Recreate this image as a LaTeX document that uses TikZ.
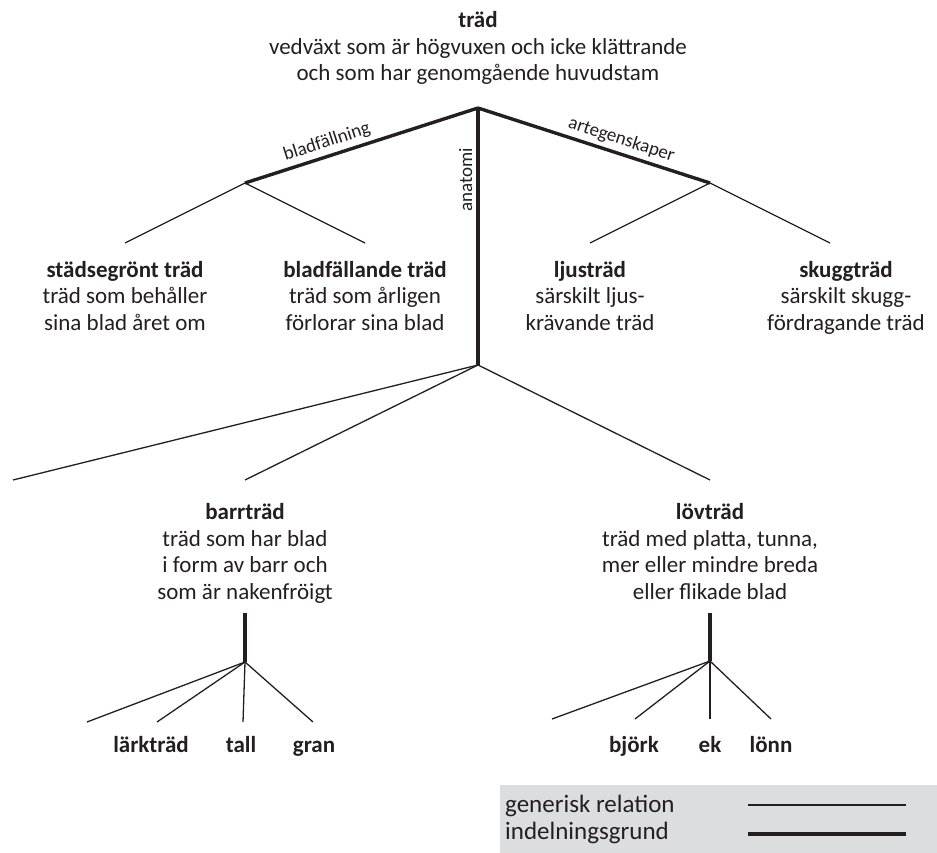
\documentclass[tikz,border=0pt]{standalone}
\usepackage{fontspec}
\setmainfont{Carlito}
\usetikzlibrary{positioning, calc}
\definecolor{inkblack}{RGB}{35, 31, 32}
\definecolor{legendgray}{RGB}{220, 221, 223}
\tikzset{
  generic/.style={line width=1.3pt, inkblack},
  division/.style={line width=3.4pt, inkblack},
  concept/.style={align=center, inner sep=0pt, anchor=base, text=inkblack, font=\fontsize{23}{26.5}\selectfont},
  leafterm/.style={inner sep=0pt, anchor=base, text=inkblack, font=\fontsize{23}{26}\selectfont\bfseries},
  basislabel/.style={inner sep=1pt, text=inkblack, font=\fontsize{19}{22}\selectfont},
  legendtext/.style={inner sep=0pt, anchor=base west, text=inkblack, font=\fontsize{25}{27}\selectfont}
}

\begin{document}
\begin{tikzpicture}[x=1pt, y=-1pt]
    \useasboundingbox (0,0) rectangle (937,853);

    % Top concept (base = last line)
    \node[concept] (trad) at (478,81) {\textbf{träd}\\vedväxt som är högvuxen och icke klättrande\\och som har genomgående huvudstam};
    \coordinate (root) at (478,108);

    % Division points
    \coordinate (bladj) at (245,183);
    \coordinate (artj) at (710,183);
    \coordinate (anaj) at (478,365);

    \draw[division] (bladj) -- node[basislabel, pos=0.37, sloped, above=3pt] {bladfällning} (root);
    \draw[division] (root) -- node[basislabel, pos=0.6, sloped, above=3pt] {artegenskaper} (artj);
    \draw[division] (anaj) -- node[basislabel, pos=0.72, sloped, above=3pt] {anatomi} (root);

    % Level 2: bladfällning
    \coordinate (stadsin) at (125,243);
    \coordinate (bladfin) at (365,243);
    \node[concept] (stads) at (125,330) {\textbf{städsegrönt träd}\\träd som behåller\\sina blad året om};
    \node[concept] (bladf) at (365,330) {\textbf{bladfällande träd}\\träd som årligen\\förlorar sina blad};
    \draw[generic] (bladj) -- (stadsin);
    \draw[generic] (bladj) -- (bladfin);

    % Level 2: artegenskaper
    \coordinate (ljusin) at (590,243);
    \coordinate (skuggin) at (830,243);
    \node[concept] (ljus) at (590,330) {\textbf{ljusträd}\\särskilt ljus-\\krävande träd};
    \node[concept] (skugg) at (846,330) {\textbf{skuggträd}\\särskilt skugg-\\fördragande träd};
    \draw[generic] (artj) -- (ljusin);
    \draw[generic] (artj) -- (skuggin);

    % Level 2: anatomi
    \coordinate (anaopen) at (13,480);
    \coordinate (barrin) at (245,480);
    \coordinate (lovin) at (710,480);
    \node[concept] (barr) at (245,599) {\textbf{barrträd}\\träd som har blad\\i form av barr och\\som är nakenfröigt};
    \node[concept] (lov) at (710,599) {\textbf{lövträd}\\träd med platta, tunna,\\mer eller mindre breda\\eller flikade blad};
    \draw[generic] (anaj) -- (anaopen);
    \draw[generic] (anaj) -- (barrin);
    \draw[generic] (anaj) -- (lovin);

    % Species under barrträd
    \coordinate (barrtop) at (245,613);
    \coordinate (barrj) at (245,662);
    \draw[division] (barrtop) -- (barrj);
    \coordinate (barropen) at (87,722);
    \coordinate (larkin) at (157,722);
    \coordinate (tallin) at (243,722);
    \coordinate (granin) at (313,722);
    \node[leafterm] (lark) at (151,752) {lärkträd};
    \node[leafterm] (tall) at (241,752) {tall};
    \node[leafterm] (gran) at (314,752) {gran};
    \foreach \e in {barropen, larkin, tallin, granin}
        \draw[generic] (barrj) -- (\e);

    % Species under lövträd
    \coordinate (lovtop) at (710,613);
    \coordinate (lovj) at (710,661);
    \draw[division] (lovtop) -- (lovj);
    \coordinate (lovopen) at (552,719);
    \coordinate (bjorkin) at (635,719);
    \coordinate (ekin) at (710,719);
    \coordinate (lonnin) at (771,719);
    \node[leafterm] (bjork) at (634,752) {björk};
    \node[leafterm] (ek) at (710,752) {ek};
    \node[leafterm] (lonn) at (771,752) {lönn};
    \foreach \e in {lovopen, bjorkin, ekin, lonnin}
        \draw[generic] (lovj) -- (\e);

    % Legend
    \fill[legendgray] (500,785) rectangle (937,853);
    \node[legendtext] (genleg) at (505,812) {generisk relation};
    \node[legendtext] (indleg) at (505,839) {indelningsgrund};
    \coordinate (gena) at (748,805);
    \coordinate (genb) at (906,805);
    \coordinate (inda) at (748,834);
    \coordinate (indb) at (906,834);
    \draw[generic] (gena) -- (genb);
    \draw[division] (inda) -- (indb);
\end{tikzpicture}
\end{document}
